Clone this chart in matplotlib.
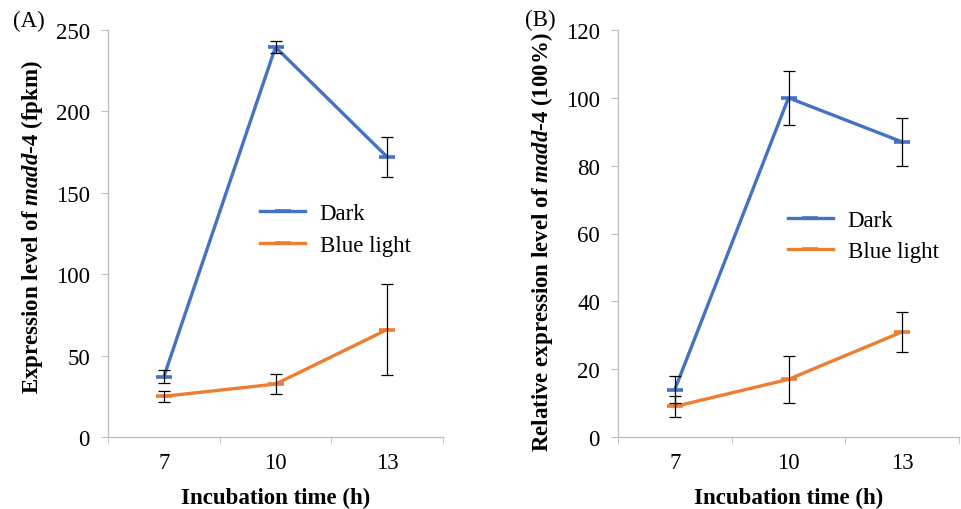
import numpy as np
import matplotlib
matplotlib.use("Agg")
import matplotlib.pyplot as plt

plt.rcParams['font.family'] = ['Liberation Serif', 'DejaVu Serif']
plt.rcParams['mathtext.fontset'] = 'custom'
plt.rcParams['mathtext.it'] = 'Liberation Serif:italic:bold'
plt.rcParams['mathtext.rm'] = 'Liberation Serif:bold'

times = ["7", "10", "13"]
series = ["Dark", "Blue light"]

# panel A: fpkm
fpkm_dark = [37, 239.5, 172]
fpkm_dark_err = [4, 3.5, 12]
fpkm_blue = [25, 32.5, 66]
fpkm_blue_err = [3.5, 6, 28]

# panel B: relative expression (%)
rel_dark = [14, 100, 87]
rel_dark_err = [4, 8, 7]
rel_blue = [9, 17, 31]
rel_blue_err = [3, 7, 6]

colors = ["#4472C4", "#ED7D31"]
axis_grey = "#BFBFBF"
fs = 16.5

fig = plt.figure(figsize=(9.61, 5.10), dpi=100)
axA = fig.add_axes([108/961, 72/510, 335/961, 407/510])
axB = fig.add_axes([618/961, 72/510, 341/961, 407/510])


def draw_panel(ax, vals, errs, ymax, ystep, ylabel, label_y, lpad, leg_anchor):
    x = np.arange(len(times))
    for v, e, c, name in zip(vals, errs, colors, series):
        ax.plot(x, v, color=c, lw=2.4, marker="_", ms=11, mew=2.6, label=name, zorder=3)
        ax.errorbar(x, v, yerr=e, fmt="none", ecolor="black", elinewidth=0.9,
                    capsize=4.5, capthick=0.9, zorder=4)
    ax.set_xlim(-0.5, len(times) - 0.5)
    ax.set_ylim(0, ymax)
    ax.set_yticks(np.arange(0, ymax + 1, ystep))
    ax.set_xticks(x)
    ax.set_xticklabels(times)
    ax.set_xticks(np.arange(-0.5, len(times), 1.0), minor=True)
    for s in ["top", "right"]:
        ax.spines[s].set_visible(False)
    for s in ["left", "bottom"]:
        ax.spines[s].set_color(axis_grey)
        ax.spines[s].set_linewidth(1.0)
    ax.tick_params(axis="y", which="major", length=5, color=axis_grey, labelsize=fs, pad=8)
    ax.tick_params(axis="x", which="major", length=0, labelsize=fs, pad=11)
    ax.tick_params(axis="x", which="minor", length=5, color=axis_grey)
    ax.set_xlabel("Incubation time (h)", fontsize=fs, fontweight="bold", labelpad=10)
    ax.set_ylabel(ylabel, fontsize=fs, fontweight="bold", labelpad=lpad)
    ax.yaxis.label.set_y(label_y)
    ax.legend(loc="center left", bbox_to_anchor=leg_anchor, frameon=False,
              fontsize=fs, handlelength=1.95, handletextpad=0.65, labelspacing=0.45,
              borderaxespad=0)


draw_panel(axA, [fpkm_dark, fpkm_blue], [fpkm_dark_err, fpkm_blue_err], 250, 50,
           r"Expression level of $madd$-$4$ (fpkm)", 0.518, 8, (0.427, 0.51))
draw_panel(axB, [rel_dark, rel_blue], [rel_dark_err, rel_blue_err], 120, 20,
           r"Relative expression level of $madd$-$4$ (100%)", 0.48, 8, (0.472, 0.494))

fig.text(13/961, 1 - 21/510, "(A)", fontsize=fs, va="center", ha="left")
fig.text(525/961, 1 - 20/510, "(B)", fontsize=fs, va="center", ha="left")

fig.savefig("out.png", dpi=100)
